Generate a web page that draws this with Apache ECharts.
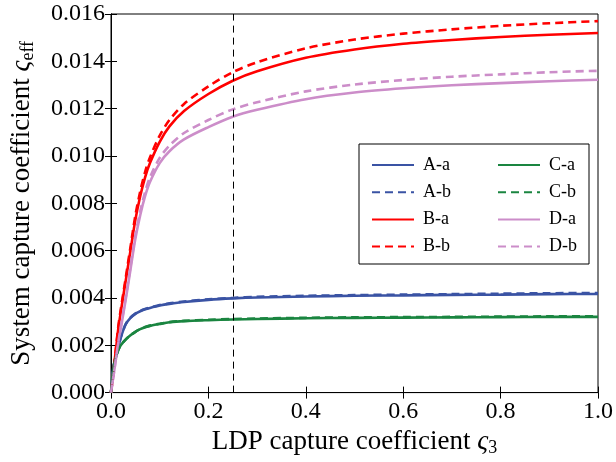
<!DOCTYPE html>
<html>
<head>
<meta charset="utf-8">
<script src="https://cdn.jsdelivr.net/npm/echarts@6/dist/echarts.min.js"></script>
<style>
html, body { margin: 0; padding: 0; background: #fff; }
#chart { width: 616px; height: 462px; }
</style>
</head>
<body>
<div id="chart"></div>
<script>
// sample points along the x axis (LDP capture coefficient)
var xs = [0, 0.005, 0.01, 0.015, 0.02, 0.03, 0.04, 0.05, 0.06, 0.07, 0.08, 0.1, 0.12, 0.15, 0.2, 0.25, 0.3, 0.4, 0.5, 0.6, 0.7, 0.8, 0.9, 1.0];

var Aa = [0, 0.0011, 0.0015, 0.0019, 0.00232, 0.00288, 0.00316, 0.00333, 0.00344, 0.00352, 0.00358, 0.00368, 0.00375, 0.00383, 0.00392, 0.00398, 0.00402, 0.00406, 0.00409, 0.00411, 0.00413, 0.00414, 0.00416, 0.00417];
var Ab = [0, 0.0011, 0.0015, 0.0019, 0.00232, 0.00289, 0.00317, 0.00334, 0.00345, 0.00353, 0.00359, 0.0037, 0.00377, 0.00385, 0.00394, 0.004, 0.00405, 0.00409, 0.00412, 0.00414, 0.00416, 0.00418, 0.0042, 0.00421];
var Ba = [0, 0.0009, 0.0018, 0.0027, 0.0034, 0.0047, 0.006, 0.0073, 0.0083, 0.0091, 0.0097, 0.0106, 0.01125, 0.0119, 0.01262, 0.01318, 0.01358, 0.01415, 0.0145, 0.01474, 0.0149, 0.01503, 0.01512, 0.0152];
var Bb = [0, 0.0009, 0.00185, 0.0028, 0.0035, 0.00482, 0.00615, 0.00748, 0.0085, 0.00932, 0.00994, 0.01086, 0.01152, 0.0122, 0.01294, 0.01354, 0.01396, 0.01455, 0.01492, 0.01517, 0.01535, 0.0155, 0.01561, 0.0157];
var Ca = [0, 0.001, 0.0015, 0.0018, 0.002, 0.00224, 0.00242, 0.00257, 0.00268, 0.00276, 0.00282, 0.0029, 0.00297, 0.00302, 0.00306, 0.00309, 0.00311, 0.00314, 0.00316, 0.00317, 0.00318, 0.00319, 0.0032, 0.0032];
var Cb = [0, 0.001, 0.0015, 0.0018, 0.002, 0.00224, 0.00242, 0.00257, 0.00268, 0.00277, 0.00283, 0.00291, 0.00298, 0.00303, 0.00308, 0.00311, 0.00313, 0.00316, 0.00318, 0.00319, 0.0032, 0.00321, 0.00322, 0.00322];
var Da = [0, 0.0007, 0.0014, 0.0021, 0.0027, 0.0039, 0.0052, 0.0065, 0.0075, 0.0083, 0.0089, 0.0097, 0.0102, 0.0107, 0.01122, 0.01166, 0.01195, 0.0124, 0.01268, 0.01286, 0.01299, 0.01308, 0.01316, 0.01322];
var Db = [0, 0.0007, 0.00143, 0.00215, 0.00277, 0.004, 0.00532, 0.00664, 0.00766, 0.00848, 0.0091, 0.00992, 0.01044, 0.01097, 0.01152, 0.01197, 0.01227, 0.01273, 0.01302, 0.01321, 0.01335, 0.01345, 0.01354, 0.0136];

var xTicks = { min: 0, max: 1.0, interval: 0.2 };
var yTicks = { min: 0, max: 0.016, interval: 0.002 };
var markX = 0.25;

var font = 'Liberation Serif';
var colA = '#3a53a4', colB = '#ff0000', colC = '#1a8540', colD = '#cc8dc9';

function pts(ys) {
    return xs.map(function (x, i) { return [x, ys[i]]; });
}

function line(name, ys, color, dashed) {
    return {
        name: name,
        type: 'line',
        data: pts(ys),
        symbol: 'none',
        smooth: 0.3,
        lineStyle: { color: color, width: 2.6, type: dashed ? [8, 5] : 'solid' },
        itemStyle: { color: color },
        z: dashed ? 3 : 2
    };
}

var series = [
    line('A-a', Aa, colA, false),
    line('A-b', Ab, colA, true),
    line('B-a', Ba, colB, false),
    line('B-b', Bb, colB, true),
    line('C-a', Ca, colC, false),
    line('C-b', Cb, colC, true),
    line('D-a', Da, colD, false),
    line('D-b', Db, colD, true)
];
series[0].markLine = {
    silent: true,
    symbol: 'none',
    label: { show: false },
    lineStyle: { color: '#000', width: 1, type: [7, 5] },
    data: [{ xAxis: markX }]
};

var myChart = echarts.init(document.getElementById('chart'));
var legendCommon = {
    orient: 'vertical',
    top: 151,
    z: 10,
    itemWidth: 42,
    itemHeight: 14,
    itemGap: 9.2,
    itemStyle: { opacity: 0 },
    textStyle: { fontFamily: font, fontSize: 18, color: '#000', padding: [0, 0, 0, 4] },
    inactiveColor: '#ccc'
};
var nameStyle = {
    fontFamily: font, fontSize: 27, color: '#000',
    rich: {
        g: { fontFamily: font, fontSize: 27, fontStyle: 'italic', color: '#000' },
        s: { fontFamily: font, fontSize: 18, color: '#000', padding: [12, 0, 0, 0] }
    }
};
option = {
    animation: false,
    backgroundColor: '#fff',
    grid: { left: 111, right: 17, top: 14, bottom: 68, show: true, borderColor: '#000', borderWidth: 1 },
    legend: [
        Object.assign({ left: 366, data: ['A-a', 'A-b', 'B-a', 'B-b'] }, legendCommon),
        Object.assign({ left: 492, data: ['C-a', 'C-b', 'D-a', 'D-b'] }, legendCommon)
    ],
    graphic: [{
        type: 'rect',
        z: 1,
        shape: { x: 359, y: 144, width: 230, height: 120 },
        style: { fill: '#fff', stroke: '#000', lineWidth: 1 }
    }],
    xAxis: [{
        type: 'value',
        min: xTicks.min, max: xTicks.max, interval: xTicks.interval,
        position: 'bottom',
        axisLine: { show: true, lineStyle: { color: '#000' } },
        axisTick: { inside: true, length: 6, lineStyle: { color: '#000' } },
        axisLabel: { fontFamily: font, fontSize: 24, color: '#000', margin: 7,
            formatter: function (v) { return v.toFixed(1); } },
        splitLine: { show: false },
        name: 'LDP capture coefficient {g|ς}{s|3}',
        nameLocation: 'middle',
        nameGap: 34,
        nameTextStyle: nameStyle
    }, {
        type: 'value',
        min: xTicks.min, max: xTicks.max, interval: xTicks.interval,
        position: 'top',
        axisLine: { show: true, lineStyle: { color: '#000' } },
        axisTick: { inside: true, length: 6, lineStyle: { color: '#000' } },
        axisLabel: { show: false },
        splitLine: { show: false }
    }],
    yAxis: [{
        type: 'value',
        min: yTicks.min, max: yTicks.max, interval: yTicks.interval,
        position: 'left',
        axisLine: { show: true, lineStyle: { color: '#000' } },
        axisTick: { inside: true, length: 6, lineStyle: { color: '#000' } },
        axisLabel: { fontFamily: font, fontSize: 24, color: '#000', margin: 6,
            formatter: function (v) { return v.toFixed(3); } },
        splitLine: { show: false },
        name: 'System capture coefficient {g|ς}{s|eff}',
        nameLocation: 'middle',
        nameRotate: 90,
        nameGap: 74,
        nameTextStyle: nameStyle
    }, {
        type: 'value',
        min: yTicks.min, max: yTicks.max, interval: yTicks.interval,
        position: 'right',
        axisLine: { show: true, lineStyle: { color: '#000' } },
        axisTick: { inside: true, length: 6, lineStyle: { color: '#000' } },
        axisLabel: { show: false },
        splitLine: { show: false }
    }],
    series: series
};
myChart.setOption(option);
</script>
</body>
</html>
